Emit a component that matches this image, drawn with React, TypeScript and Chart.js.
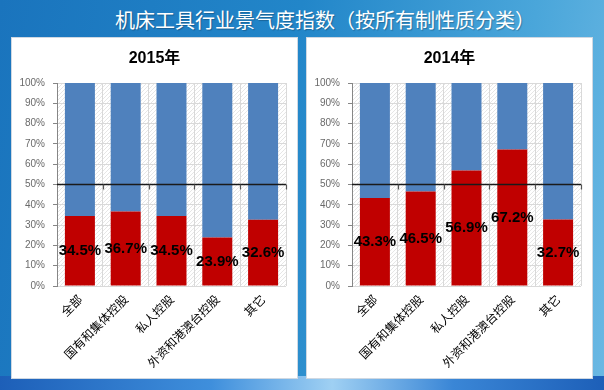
import React, { useEffect, useRef } from "react";
import { Chart, registerables } from "chart.js";

Chart.register(...registerables);

const MAIN_TITLE = "机床工具行业景气度指数（按所有制性质分类）";
const categories = ["全部", "国有和集体控股", "私人控股", "外资和港澳台控股", "其它"];
const values2015 = [34.5, 36.7, 34.5, 23.9, 32.6];
const values2014 = [43.3, 46.5, 56.9, 67.2, 32.7];
const yTicks = [0, 10, 20, 30, 40, 50, 60, 70, 80, 90, 100];
const REF_LINE = 50;

const RED = "#C00000";
const BLUE = "#4F81BD";

function makePattern(ctx: CanvasRenderingContext2D) {
  const c = document.createElement("canvas");
  c.width = 4;
  c.height = 4;
  const p = c.getContext("2d")!;
  p.fillStyle = "#ffffff";
  p.fillRect(0, 0, 4, 4);
  p.strokeStyle = "#e6e6e6";
  p.lineWidth = 1;
  p.beginPath();
  p.moveTo(0, 4);
  p.lineTo(4, 0);
  p.stroke();
  return ctx.createPattern(c, "repeat");
}

function Panel({ title, values, left }: { title: string; values: number[]; left: number }) {
  const ref = useRef<HTMLCanvasElement>(null);
  useEffect(() => {
    const canvas = ref.current!;
    const plugin = {
      id: "custom",
      beforeDraw(chart: any) {
        const { ctx, chartArea } = chart;
        ctx.save();
        const pat = makePattern(ctx);
        ctx.fillStyle = pat || "#f4f4f4";
        ctx.fillRect(chartArea.left, chartArea.top, chartArea.right - chartArea.left, chartArea.bottom - chartArea.top);
        ctx.fillStyle = "#000";
        ctx.font = "bold 16px 'Liberation Sans', 'Noto Sans CJK SC', sans-serif";
        ctx.textAlign = "center";
        ctx.textBaseline = "middle";
        ctx.fillText(title, chart.width / 2, 21);
        ctx.restore();
      },
      afterDatasetsDraw(chart: any) {
        const { ctx, chartArea, scales } = chart;
        const y = scales.y.getPixelForValue(REF_LINE);
        ctx.save();
        ctx.strokeStyle = "#1a1a1a";
        ctx.lineWidth = 1.5;
        ctx.beginPath();
        ctx.moveTo(chartArea.left, y);
        ctx.lineTo(chartArea.right, y);
        ctx.stroke();
        const n = categories.length;
        const w = (chartArea.right - chartArea.left) / n;
        ctx.strokeStyle = "#555";
        ctx.lineWidth = 1.2;
        for (let k = 1; k <= n; k++) {
          const x = Math.round(chartArea.left + k * w) + 0.5;
          ctx.beginPath();
          ctx.moveTo(x, y);
          ctx.lineTo(x, y + 5);
          ctx.stroke();
        }
        const meta = chart.getDatasetMeta(0);
        ctx.fillStyle = "#000";
        ctx.font = "bold 15px 'Liberation Sans', sans-serif";
        ctx.textAlign = "center";
        ctx.textBaseline = "middle";
        meta.data.forEach((el: any, i: number) => {
          const cy = (el.y + el.base) / 2;
          ctx.fillText(values[i].toFixed(1) + "%", el.x, cy);
        });
        ctx.restore();
      },
    };
    const chart = new Chart(canvas, {
      type: "bar",
      data: {
        labels: categories,
        datasets: [
          {
            data: values,
            backgroundColor: RED,
            categoryPercentage: 1,
            barPercentage: 0.655,
          },
          {
            data: values.map((v) => +(100 - v).toFixed(1)),
            backgroundColor: BLUE,
            categoryPercentage: 1,
            barPercentage: 0.655,
          },
        ],
      },
      options: {
        animation: false,
        responsive: false,
        maintainAspectRatio: false,
        layout: { padding: { top: 45, right: 11, left: 0, bottom: 0 } },
        plugins: { legend: { display: false }, tooltip: { enabled: false }, title: { display: false } },
        scales: {
          x: {
            stacked: true,
            grid: { display: true, color: "#d9d9d9", drawTicks: false, offset: true },
            border: { display: false },
            ticks: {
              autoSkip: false,
              maxRotation: 45,
              minRotation: 45,
              padding: 6,
              color: "#000",
              font: { family: "'Noto Sans CJK SC', sans-serif", size: 12 },
            },
            afterFit(scale: any) {
              scale.height = 92;
            },
          },
          y: {
            stacked: true,
            min: 0,
            max: 100,
            afterBuildTicks(scale: any) {
              scale.ticks = yTicks.map((v) => ({ value: v }));
            },
            ticks: {
              padding: 8,
              color: "#6a6a6a",
              font: { family: "'Liberation Sans', sans-serif", size: 10 },
              callback: (v: any) => v + "%",
            },
            grid: { color: "#d9d9d9", tickColor: "#868686", tickLength: 4 },
            border: { display: true, color: "#868686" },
            afterFit(scale: any) {
              scale.width = 45;
            },
          },
        },
      },
      plugins: [plugin],
    });
    return () => chart.destroy();
  }, []);
  return (
    <canvas
      ref={ref}
      width={285}
      height={340}
      style={{ position: "absolute", left, top: 38, width: 285, height: 340, background: "#fff", boxShadow: "0 0 0 1px #cfd8e2" }}
    />
  );
}

export default function App() {
  return (
    <div
      style={{
        position: "fixed",
        left: 0,
        top: 0,
        width: 604,
        height: 390,
        overflow: "hidden",
        background: "linear-gradient(100deg, #1a74bd 0%, #2286c9 45%, #4aa6da 80%, #6bb8e3 100%)",
      }}
    >
      <div
        style={{
          position: "absolute",
          left: 0,
          right: 0,
          bottom: 0,
          height: 14,
          background: "linear-gradient(90deg, #1d5fb8 0%, #3f8fdc 35%, #9fd0f3 55%, #3a86d6 75%, #1d5fb8 100%)",
        }}
      />
      <div
        style={{
          position: "absolute",
          left: 0,
          width: 650,
          top: 6,
          textAlign: "center",
          color: "#fff",
          fontFamily: "'Noto Sans CJK SC', sans-serif",
          fontSize: 20,
          lineHeight: "28px",
          whiteSpace: "nowrap",
          textShadow: "1px 1px 1px rgba(0,0,0,0.25)",
        }}
      >
        {MAIN_TITLE}
      </div>
      <Panel title="2015年" values={values2015} left={12} />
      <Panel title="2014年" values={values2014} left={307} />
    </div>
  );
}
